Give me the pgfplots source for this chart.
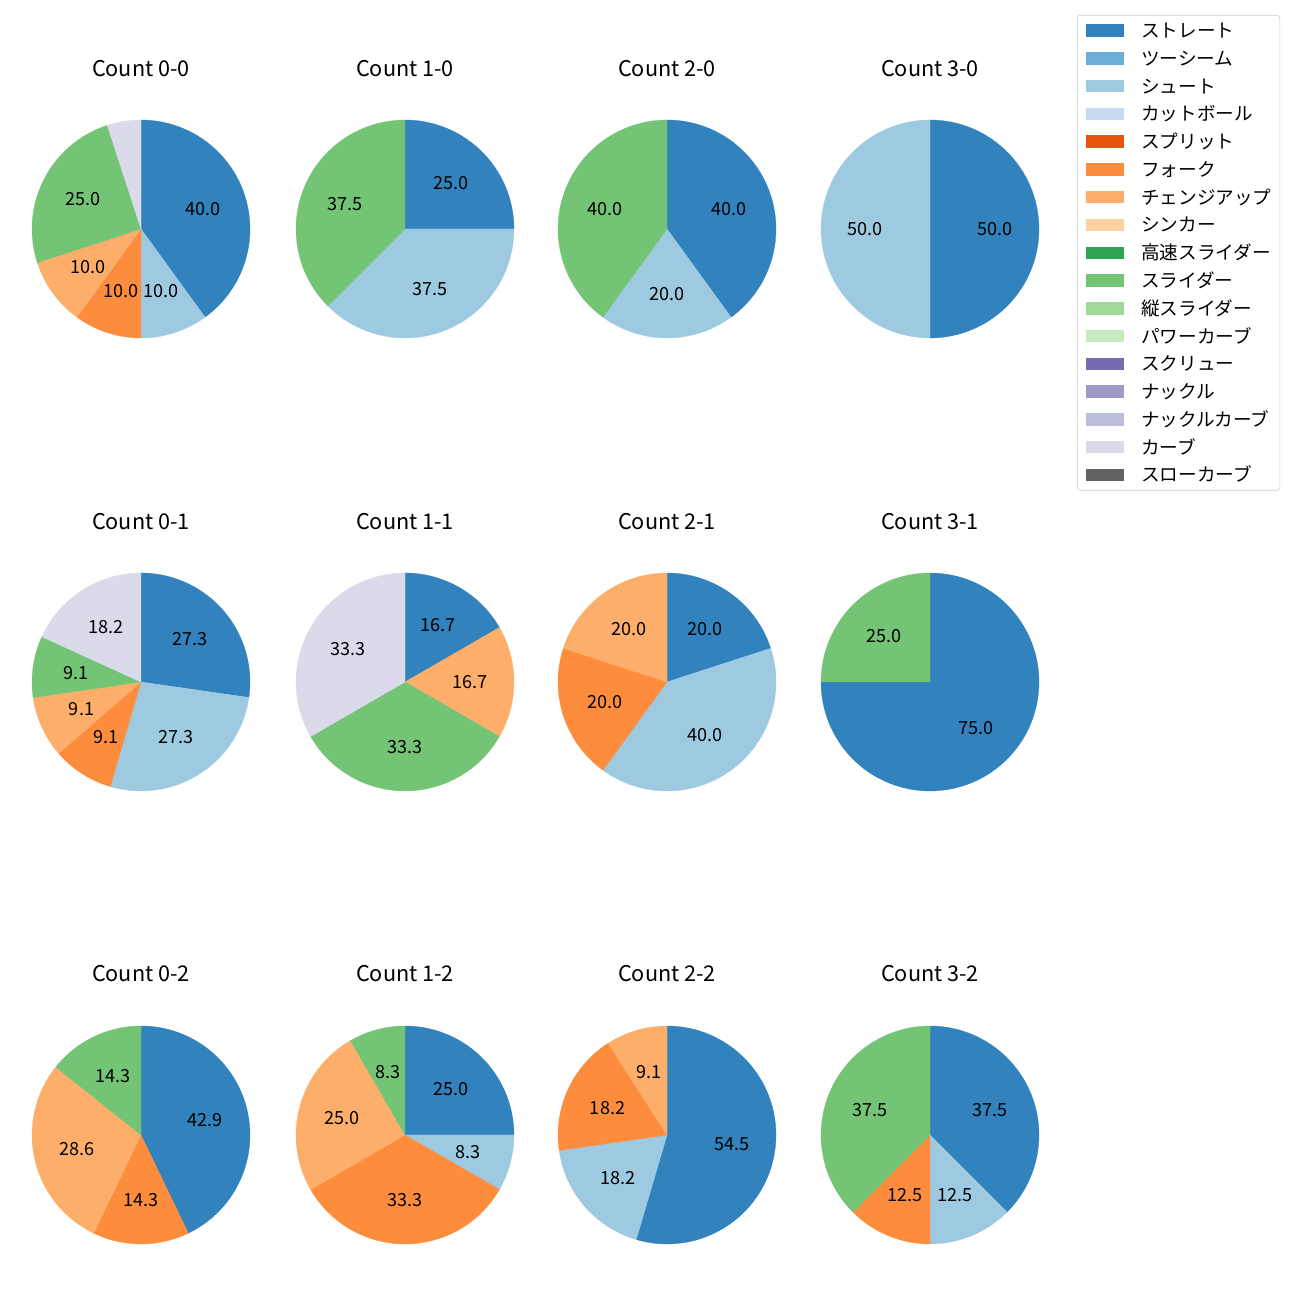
\documentclass[border=0pt]{standalone}
\usepackage{pgfplots}
\pgfplotsset{compat=1.18}
\usepackage{fontspec}
\setmainfont{Noto Sans CJK JP}
\usetikzlibrary{calc}

\definecolor{cStr}{HTML}{3182BD}
\definecolor{cTwo}{HTML}{6BAED6}
\definecolor{cSht}{HTML}{9ECAE1}
\definecolor{cCut}{HTML}{C6DBEF}
\definecolor{cSpl}{HTML}{E6550D}
\definecolor{cFrk}{HTML}{FD8D3C}
\definecolor{cChg}{HTML}{FDAE6B}
\definecolor{cSnk}{HTML}{FDD0A2}
\definecolor{cHsl}{HTML}{31A354}
\definecolor{cSld}{HTML}{74C476}
\definecolor{cVsl}{HTML}{A1D99B}
\definecolor{cPwc}{HTML}{C7E9C0}
\definecolor{cScr}{HTML}{756BB1}
\definecolor{cKnu}{HTML}{9E9AC8}
\definecolor{cKnc}{HTML}{BCBDDC}
\definecolor{cCrv}{HTML}{DADAEB}
\definecolor{cSlc}{HTML}{636363}

\newcommand{\R}{78.48pt}
\newcommand{\labfont}{\fontsize{13}{15.6}\selectfont}
\newcommand{\titlefont}{\fontsize{15.6}{18.7}\selectfont}

% #1 cx, #2 cy (pixel units, y up), #3 list value/colour/label (clockwise from top)
\newcommand{\drawpie}[3]{%
\pgfplotsextra{%
  \xdef\curang{90}%
  \foreach \v/\c/\lab in {#3}{%
    \pgfmathsetmacro{\endang}{\curang-3.6*\v}%
    \pgfmathsetmacro{\midang}{(\curang+\endang)/2}%
    \filldraw[fill=\c, draw=\c, line width=0.2pt] (axis cs:#1,#2) -- ++(\curang:\R) arc[start angle=\curang, end angle=\endang, radius=\R] -- cycle;%
    \node[font=\labfont, anchor=center, inner sep=0pt] at ($(axis cs:#1,#2)+(\midang:0.6*\R)$) {\lab};%
    \xdef\curang{\endang}%
  }%
}}

\begin{document}
\begin{tikzpicture}
\begin{axis}[
  hide axis, x=0.72pt, y=0.72pt,
  xmin=0, xmax=1300, ymin=0, ymax=1300,
  clip=false,
  legend image code/.code={\fill[#1, sharp corners] (0pt,-4.5pt) rectangle (27.5pt,4.5pt); \path[draw=none, fill=none] (0pt,0pt) -- (40pt,0pt);},
  legend style={
    at={(0.82846,0.98846)}, anchor=north west,
    draw=black!20, rounded corners=2pt, fill=white,
    font=\fontsize{13.4}{16}\selectfont,
    inner xsep=6pt, inner ysep=5pt,
    row sep=8pt,
    nodes={inner sep=0pt, text height=11pt, text depth=1pt},
  },
  legend cell align=left,
]
\path (axis cs:0,0) rectangle (axis cs:1300,1300);

\addlegendimage{fill=cStr, draw=none}
\addlegendimage{fill=cTwo, draw=none}
\addlegendimage{fill=cSht, draw=none}
\addlegendimage{fill=cCut, draw=none}
\addlegendimage{fill=cSpl, draw=none}
\addlegendimage{fill=cFrk, draw=none}
\addlegendimage{fill=cChg, draw=none}
\addlegendimage{fill=cSnk, draw=none}
\addlegendimage{fill=cHsl, draw=none}
\addlegendimage{fill=cSld, draw=none}
\addlegendimage{fill=cVsl, draw=none}
\addlegendimage{fill=cPwc, draw=none}
\addlegendimage{fill=cScr, draw=none}
\addlegendimage{fill=cKnu, draw=none}
\addlegendimage{fill=cKnc, draw=none}
\addlegendimage{fill=cCrv, draw=none}
\addlegendimage{fill=cSlc, draw=none}
\legend{ストレート,ツーシーム,シュート,カットボール,スプリット,フォーク,チェンジアップ,シンカー,高速スライダー,スライダー,縦スライダー,パワーカーブ,スクリュー,ナックル,ナックルカーブ,カーブ,スローカーブ}

% Row 1
\drawpie{141}{1071}{40/cStr/40.0, 10/cSht/10.0, 10/cFrk/10.0, 10/cChg/10.0, 25/cSld/25.0, 5/cCrv/{}}
\drawpie{405}{1071}{25/cStr/25.0, 37.5/cSht/37.5, 37.5/cSld/37.5}
\drawpie{667}{1071}{40/cStr/40.0, 20/cSht/20.0, 40/cSld/40.0}
\drawpie{930}{1071}{50/cStr/50.0, 50/cSht/50.0}
% Row 2
\drawpie{141}{618}{27.27/cStr/27.3, 27.27/cSht/27.3, 9.09/cFrk/9.1, 9.09/cChg/9.1, 9.09/cSld/9.1, 18.18/cCrv/18.2}
\drawpie{405}{618}{16.67/cStr/16.7, 16.67/cChg/16.7, 33.33/cSld/33.3, 33.33/cCrv/33.3}
\drawpie{667}{618}{20/cStr/20.0, 40/cSht/40.0, 20/cFrk/20.0, 20/cChg/20.0}
\drawpie{930}{618}{75/cStr/75.0, 25/cSld/25.0}
% Row 3
\drawpie{141}{165}{42.86/cStr/42.9, 14.29/cFrk/14.3, 28.57/cChg/28.6, 14.29/cSld/14.3}
\drawpie{405}{165}{25/cStr/25.0, 8.33/cSht/8.3, 33.33/cFrk/33.3, 25/cChg/25.0, 8.33/cSld/8.3}
\drawpie{667}{165}{54.55/cStr/54.5, 18.18/cSht/18.2, 18.18/cFrk/18.2, 9.09/cChg/9.1}
\drawpie{930}{165}{37.5/cStr/37.5, 12.5/cSht/12.5, 12.5/cFrk/12.5, 37.5/cSld/37.5}

% Titles
\node[font=\titlefont, anchor=base] at (axis cs:141,1223) {Count 0-0};
\node[font=\titlefont, anchor=base] at (axis cs:405,1223) {Count 1-0};
\node[font=\titlefont, anchor=base] at (axis cs:667,1223) {Count 2-0};
\node[font=\titlefont, anchor=base] at (axis cs:930,1223) {Count 3-0};
\node[font=\titlefont, anchor=base] at (axis cs:141,770) {Count 0-1};
\node[font=\titlefont, anchor=base] at (axis cs:405,770) {Count 1-1};
\node[font=\titlefont, anchor=base] at (axis cs:667,770) {Count 2-1};
\node[font=\titlefont, anchor=base] at (axis cs:930,770) {Count 3-1};
\node[font=\titlefont, anchor=base] at (axis cs:141,318) {Count 0-2};
\node[font=\titlefont, anchor=base] at (axis cs:405,318) {Count 1-2};
\node[font=\titlefont, anchor=base] at (axis cs:667,318) {Count 2-2};
\node[font=\titlefont, anchor=base] at (axis cs:930,318) {Count 3-2};
\end{axis}
\end{tikzpicture}
\end{document}
